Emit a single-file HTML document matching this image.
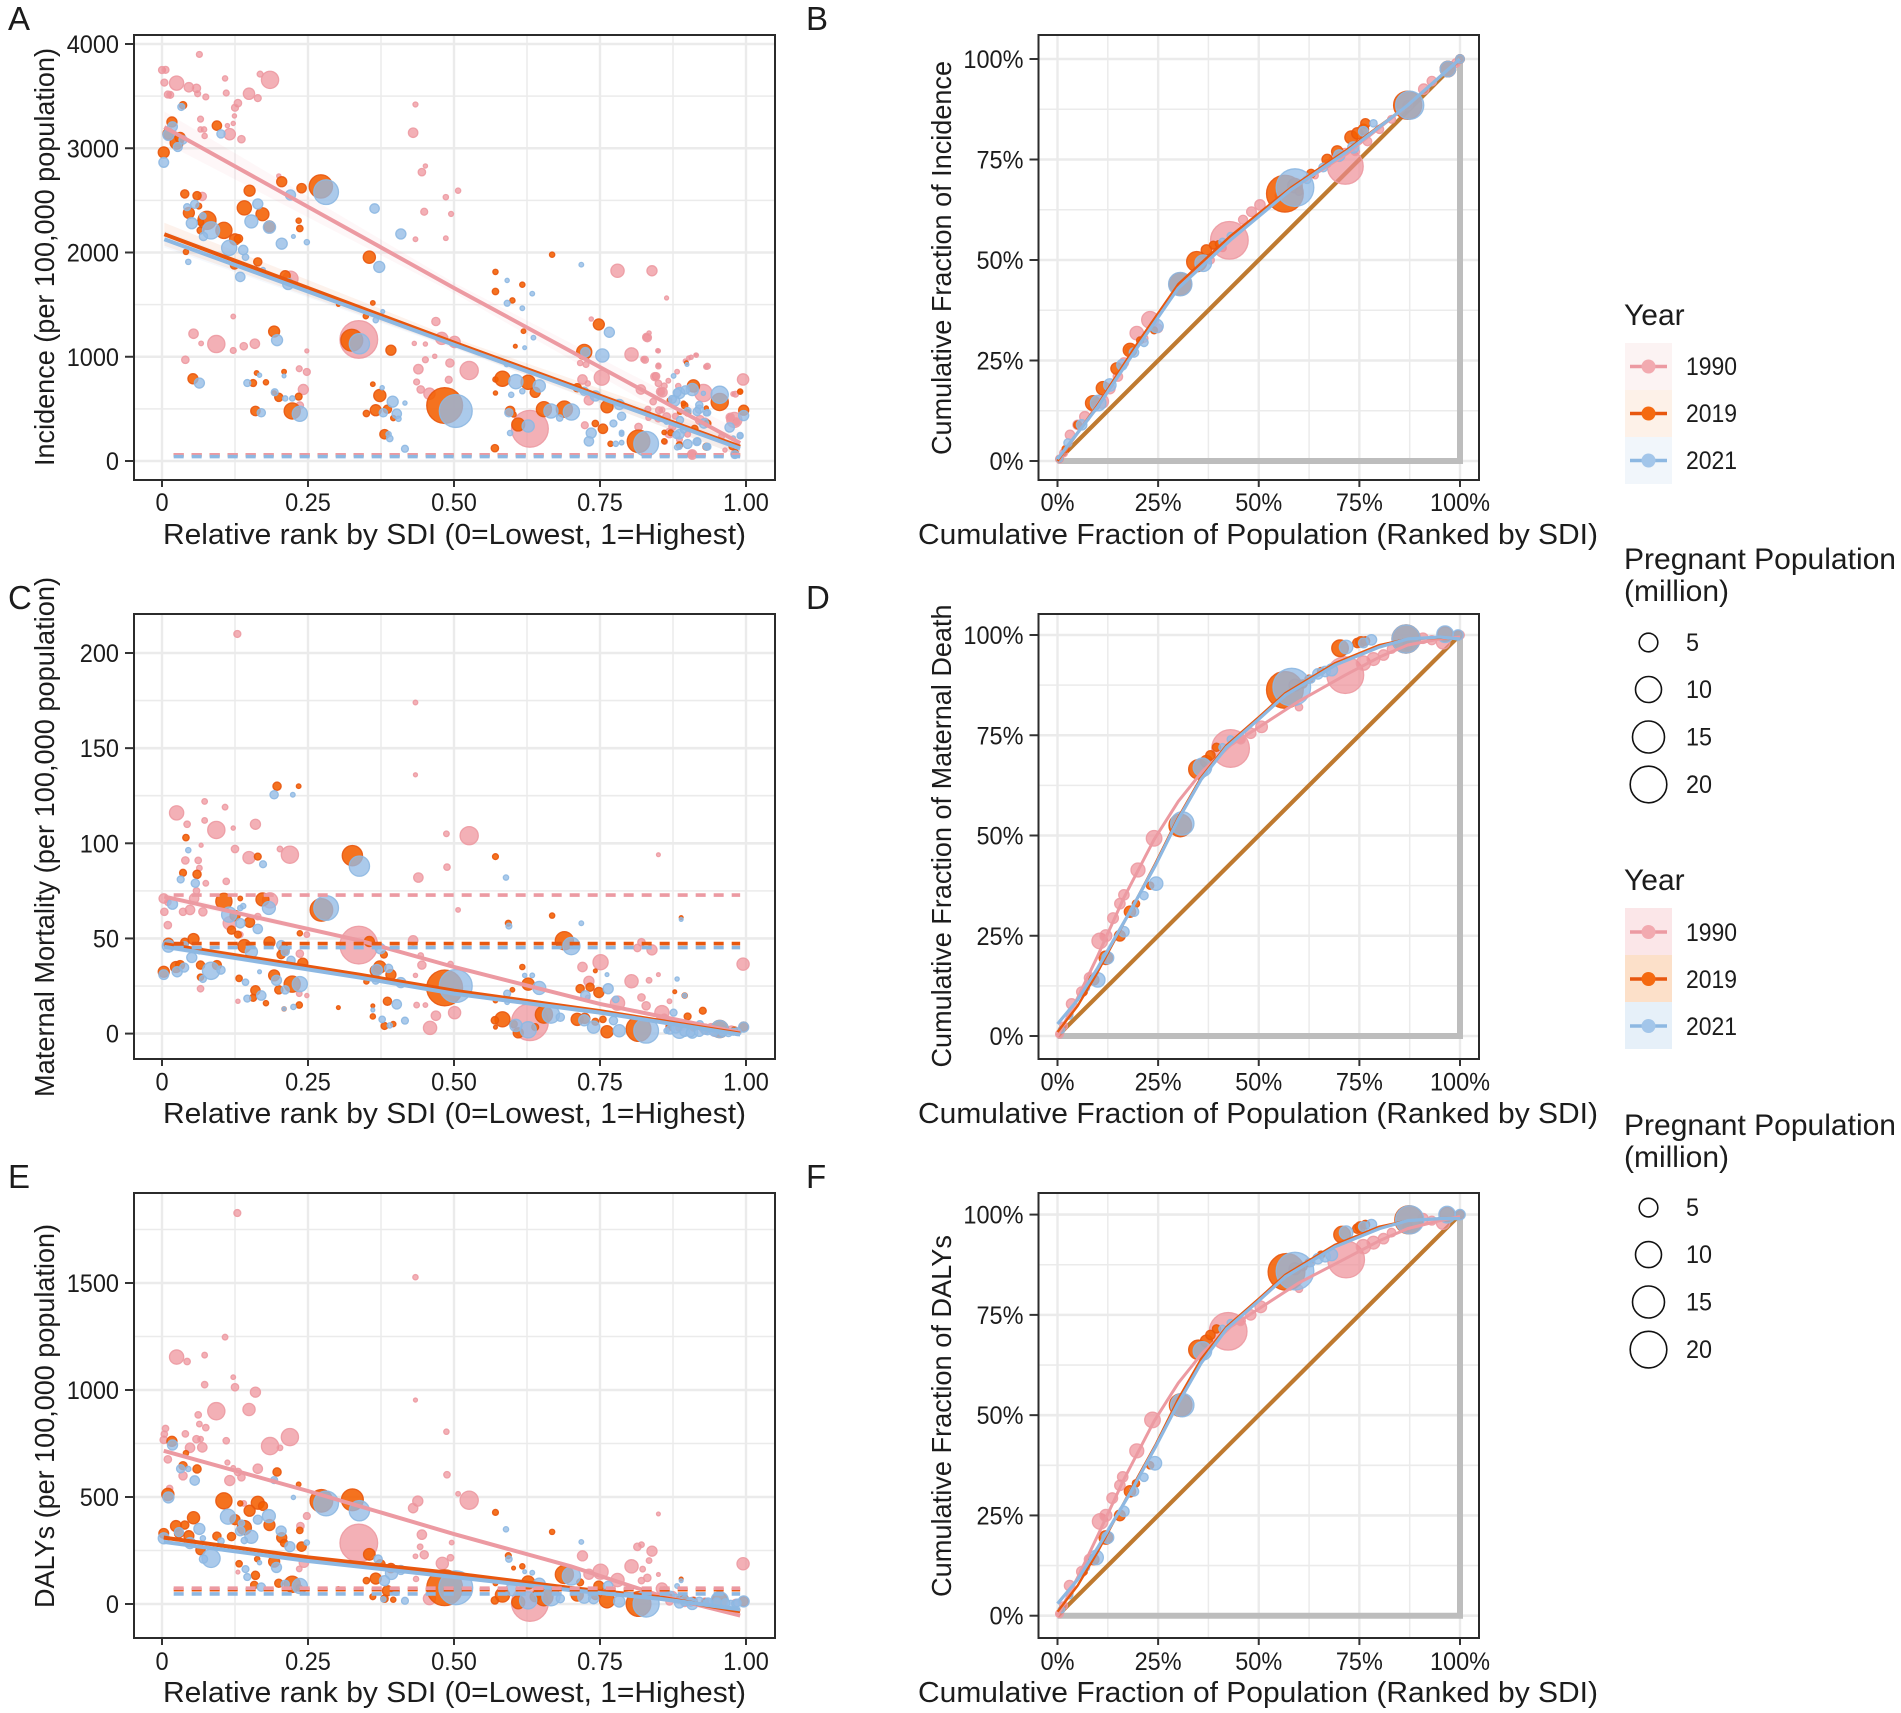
<!DOCTYPE html>
<html lang="en">
<head>
<meta charset="utf-8">
<title>SDI inequality panels</title>
<style>
html,body{margin:0;padding:0;background:#fff;}
svg{display:block;font-family:"Liberation Sans",Arial,sans-serif;}
text{fill:#1c1c1c;}
.x{font-size:29px;}
.t{font-size:28px;}
.l{font-size:25px;}
.p{font-size:33px;}
.h{font-size:30px;}
</style>
</head>
<body>
<svg id="figure" width="1901" height="1713" viewBox="0 0 1901 1713" xmlns="http://www.w3.org/2000/svg">
<rect width="1901" height="1713" fill="#fff"/>
<g id="plots"></g>

<text class="p" x="8" y="30">A</text>
<text class="p" x="806" y="30">B</text>
<text class="p" x="8" y="609">C</text>
<text class="p" x="806" y="609">D</text>
<text class="p" x="8" y="1188">E</text>
<text class="p" x="806" y="1188">F</text>

<text class="x" x="454.5" y="544" text-anchor="middle" textLength="583" lengthAdjust="spacingAndGlyphs">Relative rank by SDI (0=Lowest, 1=Highest)</text>
<text class="x" x="454.5" y="1123" text-anchor="middle" textLength="583" lengthAdjust="spacingAndGlyphs">Relative rank by SDI (0=Lowest, 1=Highest)</text>
<text class="x" x="454.5" y="1702" text-anchor="middle" textLength="583" lengthAdjust="spacingAndGlyphs">Relative rank by SDI (0=Lowest, 1=Highest)</text>
<text class="x" x="1258" y="544" text-anchor="middle" textLength="680" lengthAdjust="spacingAndGlyphs">Cumulative Fraction of Population (Ranked by SDI)</text>
<text class="x" x="1258" y="1123" text-anchor="middle" textLength="680" lengthAdjust="spacingAndGlyphs">Cumulative Fraction of Population (Ranked by SDI)</text>
<text class="x" x="1258" y="1702" text-anchor="middle" textLength="680" lengthAdjust="spacingAndGlyphs">Cumulative Fraction of Population (Ranked by SDI)</text>

<text class="t" transform="translate(54 257) rotate(-90)" text-anchor="middle" textLength="418" lengthAdjust="spacingAndGlyphs">Incidence (per 100,000 population)</text>
<text class="t" transform="translate(54 837) rotate(-90)" text-anchor="middle" textLength="520" lengthAdjust="spacingAndGlyphs">Maternal Mortality (per 100,000 population)</text>
<text class="t" transform="translate(54 1416) rotate(-90)" text-anchor="middle" textLength="384" lengthAdjust="spacingAndGlyphs">DALYs (per 100,000 population)</text>
<text class="t" transform="translate(951 258) rotate(-90)" text-anchor="middle" textLength="394" lengthAdjust="spacingAndGlyphs">Cumulative Fraction of Incidence</text>
<text class="t" transform="translate(951 836) rotate(-90)" text-anchor="middle" textLength="463" lengthAdjust="spacingAndGlyphs">Cumulative Fraction of Maternal Death</text>
<text class="t" transform="translate(951 1416) rotate(-90)" text-anchor="middle" textLength="362" lengthAdjust="spacingAndGlyphs">Cumulative Fraction of DALYs</text>

<g>
<text class="h" x="1624" y="325">Year</text>
<rect x="1625" y="343" width="47" height="47" fill="#FCF3F3"/>
<rect x="1625" y="390" width="47" height="47" fill="#FDF1E8"/>
<rect x="1625" y="437" width="47" height="47" fill="#F1F6FB"/>
<line x1="1630" x2="1667" y1="366.5" y2="366.5" stroke="#EC9AA2" stroke-width="3.5"/><circle cx="1648.5" cy="366.5" r="7" fill="#F2AAB0"/>
<line x1="1630" x2="1667" y1="413.5" y2="413.5" stroke="#E8570E" stroke-width="3.5"/><circle cx="1648.5" cy="413.5" r="7" fill="#F56A10"/>
<line x1="1630" x2="1667" y1="460.5" y2="460.5" stroke="#8DB8E2" stroke-width="3.5"/><circle cx="1648.5" cy="460.5" r="7" fill="#A3C6EA"/>
<text class="l" x="1686" y="375" textLength="51" lengthAdjust="spacingAndGlyphs">1990</text>
<text class="l" x="1686" y="422" textLength="51" lengthAdjust="spacingAndGlyphs">2019</text>
<text class="l" x="1686" y="469" textLength="51" lengthAdjust="spacingAndGlyphs">2021</text>
</g>
<g>
<text class="h" x="1624" y="569" textLength="272" lengthAdjust="spacingAndGlyphs">Pregnant Population</text>
<text class="h" x="1624" y="601">(million)</text>
<circle cx="1648.5" cy="642.5" r="9.3" fill="none" stroke="#111" stroke-width="1.6"/>
<circle cx="1648.5" cy="689.5" r="13" fill="none" stroke="#111" stroke-width="1.6"/>
<circle cx="1648.5" cy="737" r="16" fill="none" stroke="#111" stroke-width="1.6"/>
<circle cx="1648.5" cy="784.5" r="18.3" fill="none" stroke="#111" stroke-width="1.6"/>
<text class="l" x="1686" y="651" textLength="13" lengthAdjust="spacingAndGlyphs">5</text>
<text class="l" x="1686" y="698" textLength="26" lengthAdjust="spacingAndGlyphs">10</text>
<text class="l" x="1686" y="745.5" textLength="26" lengthAdjust="spacingAndGlyphs">15</text>
<text class="l" x="1686" y="793" textLength="26" lengthAdjust="spacingAndGlyphs">20</text>
</g>
<g>
<text class="h" x="1624" y="890">Year</text>
<rect x="1625" y="908" width="47" height="47" fill="#FBE6E8"/>
<rect x="1625" y="955" width="47" height="47" fill="#FCE0C9"/>
<rect x="1625" y="1002" width="47" height="47" fill="#E6F0F9"/>
<line x1="1630" x2="1667" y1="932" y2="932" stroke="#EC9AA2" stroke-width="3.5"/><circle cx="1648.5" cy="932" r="7" fill="#F2AAB0"/>
<line x1="1630" x2="1667" y1="979" y2="979" stroke="#E8570E" stroke-width="3.5"/><circle cx="1648.5" cy="979" r="7" fill="#F56A10"/>
<line x1="1630" x2="1667" y1="1026" y2="1026" stroke="#8DB8E2" stroke-width="3.5"/><circle cx="1648.5" cy="1026" r="7" fill="#A3C6EA"/>
<text class="l" x="1686" y="941" textLength="51" lengthAdjust="spacingAndGlyphs">1990</text>
<text class="l" x="1686" y="988" textLength="51" lengthAdjust="spacingAndGlyphs">2019</text>
<text class="l" x="1686" y="1035" textLength="51" lengthAdjust="spacingAndGlyphs">2021</text>
</g>
<g>
<text class="h" x="1624" y="1135" textLength="272" lengthAdjust="spacingAndGlyphs">Pregnant Population</text>
<text class="h" x="1624" y="1167">(million)</text>
<circle cx="1648.5" cy="1207.6" r="9.3" fill="none" stroke="#111" stroke-width="1.6"/>
<circle cx="1648.5" cy="1254.6" r="13" fill="none" stroke="#111" stroke-width="1.6"/>
<circle cx="1648.5" cy="1302" r="16" fill="none" stroke="#111" stroke-width="1.6"/>
<circle cx="1648.5" cy="1349.6" r="18.3" fill="none" stroke="#111" stroke-width="1.6"/>
<text class="l" x="1686" y="1216" textLength="13" lengthAdjust="spacingAndGlyphs">5</text>
<text class="l" x="1686" y="1263" textLength="26" lengthAdjust="spacingAndGlyphs">10</text>
<text class="l" x="1686" y="1310.5" textLength="26" lengthAdjust="spacingAndGlyphs">15</text>
<text class="l" x="1686" y="1358" textLength="26" lengthAdjust="spacingAndGlyphs">20</text>
</g>
</svg>

<script>
// ---- shared tick values ----
const rankTicks = [0, 0.25, 0.5, 0.75, 1];
const rankTickLabels = ["0", "0.25", "0.50", "0.75", "1.00"];
const fracTicks = [0, 0.25, 0.5, 0.75, 1];
const fracTickLabels = ["0%", "25%", "50%", "75%", "100%"];
const incidenceTicks = [0, 1000, 2000, 3000, 4000];
const mortalityTicks = [0, 50, 100, 150, 200];
const dalyTicks = [0, 500, 1000, 1500];
const years = ["1990", "2019", "2021"];

// ---- Panel A: [rank, incidence, pregnant population (million)] ----
const incidence1990 = [[0,3750,.6],[.006,3752,.6],[.004,3630,.6],[.025,3625,2.9],[.046,3585,1.2],[.059,3575,.9],[.01,3515,.6],[.014,3512,.6],[.064,3900,.4],[.061,3523,.4],[.075,3492,.4],[.108,3670,.3],[.11,3530,.4],[.168,3711,.4],[.185,3656,4.3],[.149,3523,1.8],[.164,3481,.6],[.13,3433,.7],[.125,3389,.6],[.124,3310,.15],[.066,3279,.4],[.122,3238,.15],[.112,3217,.15],[.072,3180,.3],[.066,3180,.3],[.073,3118,.3],[.116,3135,1.8],[.136,3087,.7],[.434,3420,.25],[.43,3149,1.2],[.451,2830,.15],[.445,2771,.7],[.486,2531,.3],[.507,2593,.3],[.495,2370,.25],[.449,2391,.6],[.434,2127,.2],[.486,2137,.2],[.2,2734,.15],[.069,2538,.9],[.22,1749,3.3],[.78,1825,2.5],[.839,1825,1.4],[.864,1564,.12],[.469,1338,.9],[.122,1386,.2],[.054,1221,1.2],[.093,1122,4.3],[.067,1128,.2],[.159,1125,1.2],[.14,1101,.7],[.122,1060,.4],[.248,1056,.12],[.04,971,.7],[.337,1166,21],[.479,1176,2.1],[.501,1142,1.8],[.451,1122,.15],[.432,1128,.15],[.467,1005,.15],[.451,971,.4],[.493,940,.9],[.439,881,1.2],[.526,868,4.8],[.436,758,.4],[.491,779,.6],[.443,686,.7],[.458,645,1.8],[.235,885,.4],[.248,854,.6],[.242,686,1.4],[.236,532,.7],[.63,309,20],[.804,1022,2.5],[.831,1183,.9],[.834,1228,.15],[.85,1056,.12],[.827,971,.6],[.72,782,1.2],[.726,926,.4],[.716,940,.3],[.735,1362,.15],[.753,799,3.3],[.729,744,.3],[.731,583,1.2],[.724,343,.6],[.816,326,.7],[.82,686,1.2],[.846,813,.7],[.857,659,1.2],[.85,909,.3],[.86,720,.4],[.906,995,.15],[.915,1015,.15],[.896,960,.12],[.934,909,.4],[.927,652,4.3],[.995,782,1.8],[.98,394,3.3],[.982,641,.4],[.908,62,1.2],[.869,268,1.2],[.879,429,.4],[.9,257,.4],[.851,487,.6],[.98,69,.6],[.93,377,.7],[.886,206,.4],[.958,233,.4],[.832,497,.4],[.844,809,.9],[.854,665,1],[.85,745,.5],[.841,569,.5],[.867,770,.2],[.882,857,.2],[.884,719,.3],[.85,918,.2],[.849,1058,.15],[.83,1187,.9],[.825,975,.4],[.932,905,.3],[.902,988,.15],[.914,1017,.1],[.874,329,.65],[.864,425,.8],[.833,415,.3],[.85,409,.65],[.856,489,.4],[.861,185,.3],[.921,393,1.1],[.907,67,.8],[.973,419,.9],[.983,377,.8],[.978,643,.2],[.964,105,.15]];
const incidence2019 = [[.003,2960,1.7],[.017,3252,1.4],[.036,3413,.7],[.011,3138,1.7],[.025,3053,2.4],[.031,3104,1.4],[.094,3217,1.2],[.039,2562,.9],[.06,2545,.9],[.063,2445,.4],[.046,2380,1.7],[.077,2308,4.8],[.066,2291,.5],[.106,2212,3.8],[.041,2006,.3],[.066,2212,.6],[.125,2126,1.7],[.131,2133,.9],[.141,2428,2.9],[.15,2593,1.7],[.172,2367,2.4],[.184,2250,1.7],[.164,1910,.9],[.124,1880,.9],[.205,2679,1.4],[.239,2617,1.2],[.272,2634,8],[.234,2305,.3],[.236,2230,.5],[.355,1955,2.1],[.211,1777,1.4],[.361,1516,.2],[.302,1502,.1],[.349,1389,.3],[.192,1242,1.7],[.325,1159,7],[.392,1063,1.4],[.053,789,1.4],[.162,844,.2],[.156,748,.6],[.178,755,.3],[.209,857,.2],[.192,652,.2],[.2,611,.9],[.223,480,3.8],[.16,480,1.2],[.234,617,.6],[.361,737,.2],[.373,628,2.1],[.366,487,1.7],[.386,497,.9],[.35,456,.5],[.396,412,.3],[.381,257,1.2],[.484,532,19],[.571,782,.3],[.571,1814,.3],[.571,1626,.5],[.617,1691,.3],[.6,1540,.3],[.668,1979,.3],[.619,1245,.2],[.605,1101,.1],[.583,789,3.3],[.627,755,2.9],[.639,659,1.4],[.654,497,3.3],[.689,497,3.8],[.61,350,2.4],[.596,480,1.2],[.711,703,.9],[.723,1046,3.3],[.748,1310,1.7],[.762,521,2.1],[.742,360,.5],[.755,309,1.2],[.768,165,.3],[.816,189,7.5],[.57,123,.7],[.602,446,.3],[.571,652,.15],[.91,720,2.1],[.955,566,4.3],[.996,487,1.4],[.99,669,.2],[.869,583,.2],[.895,532,.5],[.934,360,.6],[.932,137,.6],[.982,86,.3],[.86,189,.3],[.912,309,.6],[.886,154,.5],[.86,274,.2],[.893,553,.2],[.9,463,.5],[.887,473,.3],[.871,271,.4],[.932,508,.15],[.99,665,.3],[.976,137,.4],[.898,943,.1]];
const incidence2021 = [[.003,2864,1.3],[.018,3207,1.3],[.033,3396,.6],[.011,3128,1.7],[.027,3012,1.1],[.036,3080,.9],[.101,3138,.9],[.045,1910,.3],[.043,2435,.6],[.056,2463,.9],[.051,2281,1.7],[.084,2212,4.3],[.071,2154,.9],[.07,2350,.5],[.115,2044,3.3],[.139,2024,1.2],[.143,1955,.5],[.153,2298,2.4],[.164,2466,1.4],[.134,1766,1.2],[.184,2243,2.1],[.173,1835,.2],[.205,2085,1.7],[.225,2154,.1],[.248,2099,.3],[.22,2552,1.4],[.281,2579,9],[.216,1698,1.7],[.364,2422,1.2],[.409,2178,1.4],[.372,1862,1.7],[.366,1351,.3],[.378,1434,.1],[.197,1159,1.7],[.338,1125,6],[.064,748,1.4],[.146,748,.6],[.167,823,.15],[.193,659,.6],[.209,816,.1],[.223,600,.3],[.211,600,.3],[.236,453,3.3],[.17,463,.9],[.395,569,1.7],[.377,703,.15],[.416,556,.15],[.402,453,1.2],[.379,463,.9],[.405,405,.3],[.388,257,.3],[.39,216,.5],[.416,117,.6],[.503,480,16],[.591,1732,.15],[.634,1605,.2],[.591,1513,.4],[.617,1465,.2],[.718,1883,.2],[.636,1183,.2],[.621,1087,.1],[.59,926,.2],[.606,761,2.9],[.646,720,2.1],[.617,669,.3],[.598,635,.3],[.666,480,2.9],[.701,470,3.8],[.627,336,2.1],[.594,463,.9],[.681,412,.5],[.596,268,.3],[.723,669,.9],[.725,1043,1.2],[.754,1012,2.5],[.766,1235,1.4],[.742,624,1.4],[.783,542,1.4],[.787,429,.9],[.735,268,1.4],[.731,189,1.2],[.773,360,.6],[.777,165,.3],[.787,274,.2],[.829,165,9],[.899,926,.1],[.876,816,.2],[.886,652,1.7],[.908,686,2.1],[.955,635,4.3],[.996,436,1.4],[.99,240,.4],[.972,322,1.2],[.981,62,.8],[.878,576,1.4],[.9,480,.6],[.92,497,.9],[.928,360,1.2],[.934,463,.5],[.886,257,1.2],[.917,189,.6],[.934,137,.6],[.886,137,.3],[.864,377,.3],[.882,655,.8],[.896,681,.95],[.874,592,.8],[.92,537,.65],[.916,473,.8],[.887,393,.65],[.932,460,.4],[.881,249,.65],[.9,163,1.1],[.916,185,.8],[.932,137,.5],[.882,131,.3],[.893,297,.4],[.927,649,.15],[.978,218,.2],[.99,246,.4],[.787,259,.2],[.787,176,.2]];
const incidenceFitX = [0.004, 0.5, 0.99];
const incidenceFit1990 = [3203, 1660, 171];
const incidenceFit2019 = [2175, 1135, 137];
const incidenceFit2021 = [2127, 1115, 120];
const incidenceBand1990 = [150, 50, 120];
const incidenceBand2019 = [110, 45, 90];
const incidenceBand2021 = [80, 35, 70];
const incidenceMean = [60, 58, 42];

// ---- Panel C: [rank, maternal mortality, pregnant population (million)] ----
const mortality1990 = [[.129,210,.6],[.434,174,.2],[.434,136,.12],[.025,116,2.9],[.073,122,.35],[.108,119,.35],[.043,110,.5],[.093,107,4.3],[.073,112,.35],[.122,108,.15],[.16,110,1.4],[.067,99,.12],[.125,97,.7],[.202,97,.35],[.219,94,4.3],[.149,92.5,2.1],[.04,91,.7],[.062,91,.5],[.064,87,.35],[.487,105,.35],[.526,104,4.8],[.488,87.5,.5],[.439,82,1.2],[.85,94,.1],[.11,80,.5],[.075,79,.35],[.059,75,.5],[.003,71,1.2],[.055,71,1.2],[.01,69,.5],[.048,65,1.2],[.036,64,.7],[.004,64,.7],[.07,64,.9],[.185,70,3.3],[.164,61.5,.5],[.507,65,.2],[.01,57,.7],[.248,52,.35],[.43,49,1.2],[.337,46.5,21],[.821,48,.7],[.814,45,.7],[.839,44,1.4],[.116,58,2.5],[.134,52,.35],[.236,42,.7],[.443,41,.35],[.445,36,.9],[.494,36.5,.35],[.995,36.5,2.1],[.751,37.5,3.3],[.72,35,1.2],[.434,30.6,.15],[.804,27.5,2.5],[.834,28,.35],[.85,31,.1],[.731,27.5,1.4],[.78,16,2.9],[.821,19,.7],[.829,14.6,.9],[.729,19,.2],[.856,11,2.9],[.066,23.6,.5],[.235,21,.35],[.248,20,.15],[.13,17,.15],[.436,15,.35],[.451,15,.2],[.501,11,2.1],[.469,9.4,1.2],[.459,3,2.5],[.63,6,20],[.93,2.4,1.4],[.869,3.4,.7],[.895,5,.7],[.947,1.5,1.8],[.982,1.5,.7],[.869,17,.2],[.86,8,1],[.875,6,.8],[.89,4,1],[.91,4,.8],[.925,3,.7],[.94,3,1],[.96,2,.9],[.975,2,.8]];
const mortality2019 = [[.197,130,.9],[.234,130,.2],[.041,103,.5],[.164,93,.6],[.326,93.5,6],[.571,93,.4],[.036,84.5,.6],[.06,83.7,.9],[.106,69.5,3.8],[.172,70.5,2.4],[.273,65,7.5],[.134,71,.2],[.668,62,.3],[.593,58,.4],[.889,61,.1],[.125,62,1.4],[.15,58.5,1.4],[.119,54.4,.9],[.13,52,.6],[.236,52.7,.3],[.054,49.7,1.7],[.039,48,.9],[.011,47.5,1.4],[.141,46,2.4],[.184,48,1.7],[.355,48.4,1.4],[.689,48.8,4.8],[.209,44,1.4],[.204,41.5,.9],[.38,41.5,.6],[.241,37,1.4],[.003,32.5,1.7],[.024,35,1.7],[.031,36,1.1],[.094,36,1.1],[.066,36,.9],[.066,29.6,.5],[.132,29,.5],[.192,30.6,1.7],[.223,26,3.8],[.373,35,2.1],[.366,33,1.7],[.392,31,1.4],[.35,27.4,.3],[.16,22.7,1.2],[.2,23,.9],[.156,18.8,.6],[.178,16,.3],[.209,13,.15],[.235,15,.5],[.302,13.7,.1],[.386,17,.9],[.361,14.6,.1],[.361,9,.3],[.381,4,.6],[.396,5,.3],[.484,24,19],[.617,35,.3],[.6,23,.2],[.627,26,2.1],[.583,7.5,3.3],[.57,7,.7],[.654,10,4.3],[.61,.4,1.4],[.602,5,.7],[.639,3.4,.6],[.571,17.4,.2],[.571,3.4,.1],[.716,23.6,.9],[.733,24.4,.9],[.748,21.6,1.4],[.742,33,.1],[.711,7.5,2.1],[.724,8,1.4],[.762,1,2.1],[.755,7.5,.5],[.742,6.2,.6],[.816,2.4,9],[.878,22,.1],[.895,20,.3],[.9,9,.6],[.955,2.4,4.3],[.996,3.7,1.1],[.926,12,.6],[.886,5,.6],[.87,4,.8],[.885,3,.5],[.91,3,.5],[.93,2,.6],[.95,2,.5],[.98,2,.4]];
const mortality2021 = [[.192,125.5,.9],[.224,125.5,.2],[.045,96.4,.3],[.173,89,.6],[.338,88,6],[.032,81,.6],[.057,79,.9],[.589,82,.3],[.018,68,1.4],[.183,66,2.4],[.281,66,9],[.115,62.5,3.3],[.139,67,.3],[.134,66,.3],[.718,58,.2],[.594,56.5,.4],[.889,60,.1],[.134,58,1.2],[.164,55,1.2],[.011,46,2.1],[.039,46.5,.6],[.051,40,1.4],[.064,43.7,.6],[.153,43,2.1],[.204,46.5,1.1],[.211,43,.9],[.221,38.5,.9],[.701,46,4.3],[.374,44.6,1.4],[.003,31,1.3],[.026,32.5,1.4],[.038,34.7,1.1],[.084,33,4.3],[.07,28.7,.6],[.101,33.4,.9],[.143,27,.5],[.167,32.5,.1],[.196,28,1.4],[.236,26,3.3],[.146,18.4,.6],[.17,20,1.2],[.211,23,.9],[.225,14,.3],[.209,13,.1],[.368,33.4,1.7],[.388,34.3,.9],[.409,26.8,1.4],[.366,27.8,.6],[.402,15.4,1.2],[.361,12.4,.1],[.377,7.5,.5],[.416,6.8,.6],[.39,4.3,.3],[.503,25,16],[.634,30.6,.2],[.621,30.6,.15],[.591,21,.6],[.591,16.5,.2],[.646,24,2.4],[.666,10,4.3],[.627,2,3.8],[.606,4.3,2.1],[.682,8.6,.9],[.725,20,1.2],[.764,23.6,1.4],[.762,31,.1],[.723,7,1.7],[.739,3.4,2.1],[.777,18,.5],[.773,6.8,.9],[.783,1.5,2.1],[.829,1.5,9],[.882,28.7,.15],[.895,20,.2],[.886,1.5,3.3],[.908,.5,1.7],[.955,2.4,4.3],[.996,3.4,1.4],[.921,5,.6],[.934,1.5,.9],[.978,1,.6],[.876,11,.6],[.864,1.5,.3],[.87,2,1],[.88,3,1.5],[.895,1,1.2],[.905,.5,1],[.92,1,1.2],[.93,2,1],[.945,1,1],[.96,1,1],[.97,.5,.8],[.985,1,.8]];
const mortalityFitX = [0.004, 0.337, 0.5, 0.75, 0.99];
const mortalityFit1990 = [72, 49, 35, 15.6, 0.5];
const mortalityFit2019 = [47, 31, 22.5, 11.8, 0];
const mortalityFit2021 = [45.6, 29.5, 21, 11, -0.5];
const mortalityBand1990 = [2, 1, 1, 1, 1];
const mortalityBand2019 = [1.5, 1, 1, 1, 1];
const mortalityBand2021 = [1.5, 1, 1, 1, 1];
const mortalityMean = [72.8, 47.3, 45.2];

// ---- Panel E: [rank, DALYs, pregnant population (million)] ----
const daly1990 = [[.129,1827,.6],[.434,1527,.3],[.025,1154,2.9],[.043,1133,.5],[.108,1247,.35],[.073,1163,.35],[.122,1060,.2],[.125,1013,.7],[.073,1025,.5],[.16,990,1.4],[.434,953,.12],[.093,901,4.3],[.149,909,2.1],[.062,884,.5],[.064,841,.35],[.006,820,.5],[.075,824,.5],[.003,767,.7],[.004,794,.5],[.04,795,.5],[.059,770,.7],[.066,770,.35],[.11,763,.5],[.069,732,1.2],[.048,730,1.2],[.185,738,4.3],[.202,730,.35],[.219,780,4.3],[.487,805,.3],[.488,604,.5],[.112,661,.25],[.01,676,.7],[.122,636,.2],[.13,617,.7],[.164,632,1.2],[.036,599,.9],[.136,592,.7],[.116,577,1.4],[.192,575,.2],[.013,540,.5],[.507,515,.2],[.526,485,4.8],[.438,481,1.4],[.43,448,1.2],[.85,421,.1],[.14,470,.35],[.248,411,.6],[.237,364,.7],[.445,324,1.2],[.496,287,.2],[.442,267,.35],[.337,285,21],[.814,267,.7],[.821,277,.35],[.839,247,1.4],[.72,225,1.4],[.834,203,.35],[.449,230,.9],[.434,223,.2],[.494,216,.5],[.995,188,2.1],[.804,176,2.5],[.48,190,2.1],[.243,193,1.2],[.751,151,3.3],[.823,163,.35],[.731,139,1.4],[.78,112,2.5],[.435,117,.3],[.831,122,.7],[.821,109,.5],[.63,5,20],[.458,25,2.1],[.856,72,1.8],[.85,138,.1],[.13,149,.1],[.235,164,.35],[.869,12,.7],[.895,5,.7],[.947,0,1.4],[.982,5,.7],[.86,60,1],[.875,40,.8],[.89,25,.8],[.91,15,.8],[.93,10,.8],[.96,8,.7]];
const daly2019 = [[.017,760,1.4],[.041,705,.3],[.036,646,.9],[.06,631,.9],[.197,617,.9],[.234,559,.2],[.01,512,2.1],[.106,482,3.8],[.134,470,.3],[.164,473,2.4],[.273,482,7.5],[.326,487,7],[.15,436,1.7],[.173,458,1.1],[.571,428,.4],[.125,394,1.4],[.054,403,2.1],[.184,369,1.7],[.024,364,1.7],[.039,369,.9],[.003,330,1.3],[.141,357,2.9],[.236,344,.5],[.668,337,.3],[.029,330,1.1],[.046,319,1.4],[.094,317,.9],[.119,315,.9],[.205,310,1.4],[.209,285,.7],[.239,268,1.2],[.066,252,1.2],[.163,210,.3],[.192,198,1.7],[.355,232,1.9],[.374,185,1.2],[.392,168,1.2],[.593,226,.4],[.617,176,.3],[.602,168,.1],[.132,188,.5],[.366,119,1.7],[.35,109,.5],[.16,134,.9],[.158,89,.7],[.2,97,.9],[.223,92,3.8],[.235,75,.5],[.361,34,.4],[.302,72,.1],[.386,62,1.4],[.381,25,.7],[.396,20,.3],[.484,76,19],[.571,96,.2],[.57,17,.7],[.583,42,2.9],[.627,101,2.4],[.61,8,2.4],[.639,34,1.4],[.654,34,4.8],[.689,138,4.8],[.716,101,.6],[.748,84,1.4],[.711,42,2.1],[.762,17,3.3],[.742,42,1.1],[.816,0,9],[.889,117,.1],[.895,25,.7],[.955,17,3.3],[.996,12,1.1],[.87,30,.5],[.885,20,.5],[.91,15,.5],[.93,8,.5]];
const daly2021 = [[.018,743,1.4],[.045,631,.3],[.032,632,.9],[.056,577,1.2],[.192,579,.6],[.225,498,.15],[.011,498,1.7],[.281,470,9],[.338,436,6],[.113,408,3.3],[.183,411,2.4],[.164,394,1.1],[.136,378,.5],[.134,341,1.2],[.589,349,.3],[.064,351,1.7],[.003,307,1.7],[.029,336,1.1],[.048,285,1.7],[.07,307,.3],[.153,314,2.4],[.204,341,1.4],[.141,297,.5],[.718,290,.2],[.248,287,.3],[.219,268,1.4],[.101,294,.5],[.084,213,4.8],[.071,210,.9],[.167,193,.15],[.196,171,1.4],[.143,163,.6],[.146,126,.6],[.17,79,.9],[.236,84,3.3],[.211,92,.9],[.594,210,.5],[.37,210,.9],[.393,143,2.1],[.409,159,1.1],[.381,109,1.4],[.401,55,.5],[.416,15,.6],[.379,22,.3],[.503,76,17],[.634,146,.2],[.621,151,.1],[.646,92,2.1],[.599,67,2.1],[.627,17,4.3],[.666,34,4.8],[.682,25,.9],[.701,131,4.8],[.723,34,2.4],[.764,84,1.2],[.739,25,1.4],[.783,12,1.8],[.829,0,10],[.889,109,.1],[.882,84,.2],[.908,0,1.7],[.955,17,4.3],[.996,12,1.7],[.974,0,.7],[.982,0,.7],[.886,5,1.4],[.934,5,.7],[.87,40,1],[.88,25,1],[.895,15,1.2],[.905,10,1],[.92,12,1],[.935,8,1],[.95,8,1],[.965,5,1],[.985,5,.8]];
const dalyFitX = [0.003, 0.25, 0.5, 0.7, 0.85, 0.99];
const dalyFit1990 = [716, 528, 327, 176, 42, -54];
const dalyFit2019 = [310, 218, 143, 75, 32, -34];
const dalyFit2021 = [290, 201, 126, 65, 25, -25];
const dalyBand1990 = [6, 4, 3, 3, 3, 5];
const dalyBand2019 = [5, 3, 3, 3, 3, 4];
const dalyBand2021 = [5, 3, 3, 3, 3, 4];
const dalyMean = [74, 67, 47];

// ---- Panel B: [cumulative population, cumulative incidence, population (million)] ----
const concInc1990 = [[.005,.005,.8],[.015,.02,.8],[.031,.065,1.2],[.05,.09,1.2],[.068,.11,1.5],[.09,.135,1.4],[.11,.148,2.6],[.13,.18,1.5],[.15,.21,1.2],[.165,.245,1.2],[.18,.275,1.2],[.197,.318,2.6],[.215,.305,.8],[.23,.351,4.1],[.25,.33,1],[.38,.5,.8],[.41,.53,.7],[.427,.549,21],[.461,.6,1.1],[.482,.62,1.3],[.503,.637,1.5],[.55,.66,.7],[.6,.68,.6],[.64,.71,.5],[.67,.74,.8],[.7,.755,.8],[.715,.733,19],[.74,.77,.9],[.77,.795,1],[.8,.825,.9],[.83,.85,.8],[.87,.885,1.2],[.91,.925,1.5],[.93,.945,1.2],[.97,.975,3.5],[.99,.99,1],[1,1,1]];
const concInc2019 = [[.005,.005,.5],[.02,.03,.6],[.05,.09,.8],[.088,.144,3.2],[.113,.181,2.6],[.147,.23,1.9],[.18,.276,2.6],[.205,.3,.6],[.24,.325,.6],[.305,.44,7.5],[.346,.496,6],[.37,.525,1.5],[.387,.537,.8],[.4,.54,.5],[.565,.665,20],[.59,.685,3],[.6,.67,.7],[.63,.715,1],[.67,.75,1.5],[.695,.77,1.8],[.73,.805,2.4],[.745,.815,1.8],[.76,.825,1.5],[.765,.84,1.2],[.87,.885,11.7],[.97,.975,3.5],[1,1,1]];
const concInc2021 = [[.005,.005,.5],[.026,.045,.9],[.06,.09,1.5],[.101,.144,3.5],[.13,.189,2.2],[.16,.239,1.5],[.19,.27,1.2],[.215,.295,.9],[.246,.336,2.6],[.305,.44,8],[.362,.492,4],[.41,.545,.7],[.43,.56,.6],[.59,.68,21],[.62,.7,.8],[.66,.73,1],[.7,.76,1.8],[.735,.78,1.8],[.76,.82,1.3],[.785,.84,.7],[.875,.885,11.7],[.97,.975,3.5],[1,1,1]];
const concIncX = [0, .1, .2, .3, .43, .58, .72, .87, 1];
const concIncFit1990 = [0, .14, .29, .43, .555, .675, .765, .885, 1];
const concIncFit2019 = [0, .14, .295, .44, .56, .68, .775, .885, 1];
const concIncFit2021 = [.005, .135, .285, .43, .55, .675, .77, .885, 1];

// ---- Panel D: [cumulative population, cumulative maternal death, population (million)] ----
const concMort1990 = [[.005,.005,.8],[.015,.025,.8],[.035,.08,1.5],[.06,.11,1.4],[.08,.145,1.6],[.105,.237,3.5],[.12,.25,2],[.138,.294,1.6],[.155,.33,1.5],[.165,.352,1.5],[.2,.414,2.8],[.24,.493,3.5],[.43,.717,21],[.455,.74,1.2],[.48,.755,1.5],[.507,.771,1.9],[.6,.82,.7],[.715,.9,20],[.76,.93,2.9],[.785,.94,2.3],[.81,.95,1.5],[.83,.965,1],[.87,.975,1.2],[.908,.992,1.5],[.93,.987,1.1],[.958,.982,2.6],[1,1,1]];
const concMort2019 = [[.01,.015,.5],[.03,.055,.5],[.065,.11,.7],[.09,.14,1.5],[.12,.195,2.6],[.155,.25,1.6],[.18,.31,1.8],[.195,.33,.7],[.23,.375,.7],[.305,.525,7.5],[.35,.665,5.5],[.37,.685,2],[.38,.7,1.2],[.395,.72,.9],[.565,.863,20],[.59,.875,2],[.61,.878,.9],[.625,.89,.9],[.655,.91,.7],[.702,.967,4],[.745,.98,1.2],[.754,.983,1.5],[.765,.985,1],[.866,.99,11.7],[.963,1.002,3],[.995,1,1]];
const concMort2021 = [[.01,.015,.5],[.03,.05,.5],[.07,.12,.8],[.1,.14,3],[.125,.195,2],[.165,.26,1.5],[.19,.31,1.2],[.215,.35,.9],[.245,.38,2.6],[.31,.53,8],[.36,.67,5],[.41,.72,.7],[.43,.74,.6],[.582,.87,21],[.63,.89,.8],[.647,.903,1.5],[.665,.909,1.5],[.681,.913,2],[.717,.97,2.6],[.76,.98,1.3],[.78,.988,1.5],[.866,.99,11.7],[.963,1.002,4],[.995,1,1.5]];
const concMortX1990 = [0, .05, .1, .165, .24, .3, .36, .43, .5, .6, .715, .8, .87, .95, 1];
const concMortX = [0, .05, .1, .18, .243, .3, .357, .42, .5, .566, .69, .8, .87, .95, 1];
const concMortFit1990 = [0, .095, .2, .345, .49, .585, .66, .725, .77, .835, .9, .945, .975, .99, .995];
const concMortFit2019 = [.01, .075, .16, .31, .43, .545, .645, .725, .795, .855, .93, .975, .99, .993, .99];
const concMortFit2021 = [.03, .09, .17, .31, .425, .54, .64, .72, .79, .85, .925, .97, .99, .995, .99];

// ---- Panel F: [cumulative population, cumulative DALYs, population (million)] ----
const concDaly1990 = [[.005,.005,.8],[.015,.025,.8],[.03,.075,1.5],[.06,.11,1.4],[.08,.14,1.6],[.106,.235,3.5],[.12,.25,2],[.136,.293,1.6],[.155,.325,1.5],[.162,.346,1.5],[.197,.411,2.8],[.236,.488,3.5],[.424,.709,21],[.455,.735,1.2],[.48,.75,1.5],[.505,.77,1.9],[.6,.815,.7],[.717,.888,20],[.76,.92,2.9],[.785,.93,2.3],[.81,.94,1.5],[.83,.955,1],[.87,.97,1.2],[.908,.99,1.5],[.93,.985,1.1],[.958,.98,2.6],[1,1,1]];
const concDaly2019 = [[.01,.015,.5],[.03,.055,.5],[.065,.11,.7],[.09,.14,1.5],[.12,.195,2.6],[.155,.25,1.6],[.18,.31,1.8],[.195,.33,.7],[.23,.375,.7],[.306,.525,7.5],[.35,.663,5.5],[.37,.685,2],[.38,.7,1.2],[.395,.715,.9],[.569,.857,20],[.59,.865,2],[.61,.87,.9],[.625,.88,.9],[.655,.9,.7],[.707,.95,4],[.745,.965,1.2],[.752,.969,1.5],[.765,.975,1],[.873,.987,11.7],[.968,1,3],[1,1,1]];
const concDaly2021 = [[.01,.015,.5],[.03,.05,.5],[.07,.12,.8],[.096,.145,3],[.125,.195,2],[.165,.26,1.5],[.19,.31,1.2],[.215,.345,.9],[.242,.38,2.6],[.31,.525,8],[.36,.66,5],[.41,.715,.7],[.43,.73,.6],[.59,.859,21],[.63,.88,.8],[.647,.89,1.5],[.665,.895,1.5],[.681,.9,2],[.717,.955,2.6],[.76,.97,1.3],[.78,.975,1.5],[.875,.987,11.7],[.968,1,4],[1,1,1.5]];
const concDalyFit1990 = [0, .095, .2, .34, .485, .58, .655, .72, .765, .83, .89, .935, .965, .985, .995];
const concDalyFit2019 = [.01, .075, .16, .31, .425, .54, .64, .72, .79, .85, .925, .97, .985, .99, .99];
const concDalyFit2021 = [.03, .09, .17, .305, .42, .53, .63, .715, .785, .845, .92, .965, .985, .99, .99];

// ---- colours ----
const seriesFill = ["#EE8A93", "#F45F00", "#93BBE6"];
const seriesFillOpacity = [0.68, 0.88, 0.78];
const seriesLine = ["#EC9AA2", "#E8570E", "#8DB8E2"];
const rankLineWidth = [4, 4, 4];
const concLineWidth = [3, 2.4, 3.2];
const meanDrawOrder = [1, 0, 2];

const NS = "http://www.w3.org/2000/svg";
const root = document.getElementById("plots");
function mk(parent, tag, attrs) {
  const e = document.createElementNS(NS, tag);
  for (const k in attrs) e.setAttribute(k, attrs[k]);
  parent.appendChild(e);
  return e;
}
function sizeToRadius(s) { return Math.sqrt(16.8 * s + 2); }
function squeeze(t) {
  t.setAttribute("textLength", (t.getComputedTextLength() * 0.94).toFixed(1));
  t.setAttribute("lengthAdjust", "spacingAndGlyphs");
}

function drawPanel(p) {
  const g = mk(root, "g", {});
  
  
  const X = v => p.x0 + (p.x1 - p.x0) * v;
  const yMaxTick = p.yTicks[p.yTicks.length - 1];
  const Y = v => p.y0 + (p.y1 - p.y0) * (v / yMaxTick);

  // minor grid
  const stepY = p.yTicks[1] - p.yTicks[0];
  for (let v = -stepY / 2; Y(v) > p.top; v += stepY) {
    if (Y(v) >= p.bottom) continue;
    const m = mk(g, "line", { x1: p.left, x2: p.right, y1: Y(v), y2: Y(v), stroke: "#EBEBEB", "stroke-width": 1.6 });
    
    
  }
  for (let i = 0; i < p.xTicks.length - 1; i++) {
    const v = (p.xTicks[i] + p.xTicks[i + 1]) / 2;
    const m = mk(g, "line", { x1: X(v), x2: X(v), y1: p.top, y2: p.bottom, stroke: "#EBEBEB", "stroke-width": 1.5 });
    
    
  }
  // major grid + ticks + labels
  p.yTicks.forEach((v, i) => {
    const l = mk(g, "line", { x1: p.left, x2: p.right, y1: Y(v), y2: Y(v), stroke: "#EBEBEB", "stroke-width": 2.6 });
    
    
    const t = mk(g, "line", { x1: p.left - 9, x2: p.left, y1: Y(v), y2: Y(v), stroke: "#333", "stroke-width": 2 });
    
    
    const lb = mk(g, "text", { x: p.left - 15, y: Y(v) + 9, "text-anchor": "end", "font-size": 25 });
    
    
    lb.textContent = p.yLabels ? p.yLabels[i] : String(v);
    squeeze(lb);
  });
  p.xTicks.forEach((v, i) => {
    const l = mk(g, "line", { x1: X(v), x2: X(v), y1: p.top, y2: p.bottom, stroke: "#EBEBEB", "stroke-width": 2.4 });
    
    
    const t = mk(g, "line", { x1: X(v), x2: X(v), y1: p.bottom, y2: p.bottom + 7, stroke: "#333", "stroke-width": 2 });
    
    
    const lb = mk(g, "text", { x: X(v), y: p.tickBase, "text-anchor": "middle", "font-size": 25 });
    
    
    lb.textContent = p.xLabels[i];
    squeeze(lb);
  });

  // concentration reference lines
  if (p.concentration) {
    const ref = mk(g, "polyline", { points: `${X(0)},${Y(0)} ${X(1)},${Y(0)} ${X(1)},${Y(1)}`, fill: "none", stroke: "#BDBDBD", "stroke-width": 6 });
    
    
    const eq = mk(g, "line", { x1: X(0), y1: Y(0), x2: X(1), y2: Y(1), stroke: "#BF7A30", "stroke-width": 4.2 });
    
    
  }

  // confidence ribbons
  if (p.bands) {
    p.bands.forEach((band, s) => {
      const xs = p.fitXs[s], fit = p.fits[s];
      const upper = xs.map((x, i) => X(x) + "," + Y(fit[i] + band[i]));
      const lower = xs.map((x, i) => X(x) + "," + Y(fit[i] - band[i])).reverse();
      const r = mk(g, "polygon", { points: upper.concat(lower).join(" "), fill: seriesLine[s], "fill-opacity": 0.08 });
      
      
    });
  }

  // bubbles, drawn oldest year first
  p.points.forEach((pts, s) => {
    const sg = mk(g, "g", {});
    
    
    pts.forEach(d => {
      const c = mk(sg, "circle", {
        cx: X(d[0]), cy: Y(d[1]), r: sizeToRadius(d[2]),
        fill: seriesFill[s], "fill-opacity": seriesFillOpacity[s],
        stroke: seriesLine[s], "stroke-width": 1.3, "stroke-opacity": 0.9
      });
      
      
    });
  });

  // fitted lines
  p.fits.forEach((fit, s) => {
    const xs = p.fitXs[s];
    const pl = mk(g, "polyline", {
      points: xs.map((x, i) => X(x) + "," + Y(fit[i])).join(" "),
      fill: "none", stroke: seriesLine[s], "stroke-width": p.concentration ? concLineWidth[s] : rankLineWidth[s], "stroke-linejoin": "round"
    });
    
    
  });

  // national means as dashed lines
  if (p.means) {
    meanDrawOrder.forEach(s => {
      const v = p.means[s];
      const d = mk(g, "line", { x1: X(0.02), x2: X(0.99), y1: Y(v), y2: Y(v), stroke: seriesLine[s], "stroke-width": 3.6, "stroke-dasharray": "10 8" });
      
      
    });
  }

  const f = mk(g, "rect", { x: p.left, y: p.top, width: p.right - p.left, height: p.bottom - p.top, fill: "none", stroke: "#2b2b2b", "stroke-width": 2 });
  
  
}

const leftFrame = { left: 134, right: 775, x0: 162, x1: 746, xTicks: rankTicks, xLabels: rankTickLabels };
const rightFrame = { left: 1038.5, right: 1479, x0: 1057.5, x1: 1460, xTicks: fracTicks, xLabels: fracTickLabels, yTicks: fracTicks, yLabels: fracTickLabels, concentration: true };

drawPanel(Object.assign({}, leftFrame, {
  id: "a", top: 35, bottom: 480, y0: 461, y1: 44, tickBase: 511, yTicks: incidenceTicks,
  points: [incidence1990, incidence2019, incidence2021],
  fitXs: [incidenceFitX, incidenceFitX, incidenceFitX],
  fits: [incidenceFit1990, incidenceFit2019, incidenceFit2021],
  bands: [incidenceBand1990, incidenceBand2019, incidenceBand2021],
  means: incidenceMean
}));
drawPanel(Object.assign({}, rightFrame, {
  id: "b", top: 35, bottom: 480, y0: 461, y1: 59, tickBase: 511,
  points: [concInc1990, concInc2019, concInc2021],
  fitXs: [concIncX, concIncX, concIncX],
  fits: [concIncFit1990, concIncFit2019, concIncFit2021]
}));
drawPanel(Object.assign({}, leftFrame, {
  id: "c", top: 614, bottom: 1059, y0: 1033.6, y1: 653, tickBase: 1090.5, yTicks: mortalityTicks,
  points: [mortality1990, mortality2019, mortality2021],
  fitXs: [mortalityFitX, mortalityFitX, mortalityFitX],
  fits: [mortalityFit1990, mortalityFit2019, mortalityFit2021],
  bands: [mortalityBand1990, mortalityBand2019, mortalityBand2021],
  means: mortalityMean
}));
drawPanel(Object.assign({}, rightFrame, {
  id: "d", top: 614, bottom: 1059, y0: 1036, y1: 635, tickBase: 1090.5,
  points: [concMort1990, concMort2019, concMort2021],
  fitXs: [concMortX1990, concMortX, concMortX],
  fits: [concMortFit1990, concMortFit2019, concMortFit2021]
}));
drawPanel(Object.assign({}, leftFrame, {
  id: "e", top: 1193, bottom: 1638, y0: 1604, y1: 1283, tickBase: 1670, yTicks: dalyTicks,
  points: [daly1990, daly2019, daly2021],
  fitXs: [dalyFitX, dalyFitX, dalyFitX],
  fits: [dalyFit1990, dalyFit2019, dalyFit2021],
  bands: [dalyBand1990, dalyBand2019, dalyBand2021],
  means: dalyMean
}));
drawPanel(Object.assign({}, rightFrame, {
  id: "f", top: 1193, bottom: 1638, y0: 1615.7, y1: 1214.6, tickBase: 1670,
  points: [concDaly1990, concDaly2019, concDaly2021],
  fitXs: [concMortX1990, concMortX, concMortX],
  fits: [concDalyFit1990, concDalyFit2019, concDalyFit2021]
}));
</script>
</body>
</html>
